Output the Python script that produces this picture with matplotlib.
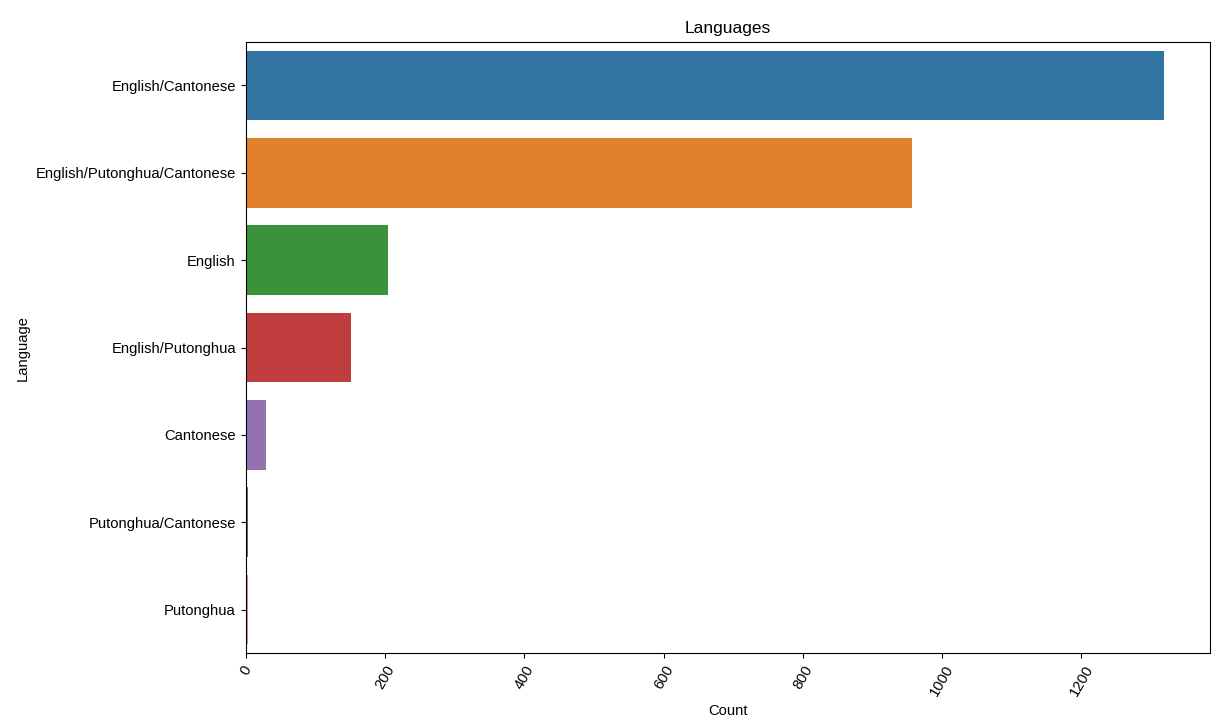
import matplotlib
matplotlib.use("Agg")
import matplotlib.pyplot as plt

languages = ["English/Cantonese", "English/Putonghua/Cantonese", "English",
             "English/Putonghua", "Cantonese", "Putonghua/Cantonese", "Putonghua"]
counts = [1318, 956, 205, 152, 30, 3, 3]

# seaborn's default palette, desaturated like barplot does
palette = ["#3274a1", "#e1812c", "#3a923a", "#c03d3e", "#9372b2", "#845b53", "#d684bd"]

plt.rcParams['font.family'] = ['Liberation Sans', 'DejaVu Sans']
fig = plt.figure(figsize=(12.28, 7.21), dpi=100)
ax = fig.add_axes([0.2, 0.094, 0.785, 0.848])

y = range(len(languages))
ax.barh(y, counts, height=0.8, color=palette)
ax.set_yticks(list(y))
ax.set_yticklabels(languages, fontsize=10.6)
ax.set_ylim(len(languages) - 0.5, -0.5)
ax.set_xlim(0, max(counts) * 1.05)
ax.tick_params(axis='x', labelrotation=60, labelsize=10.6)
ax.set_xlabel("Count", fontsize=10.6)
ax.set_ylabel("Language", fontsize=10.6)
ax.set_title("Languages", fontsize=12.5)

fig.savefig("out.png", dpi=100)
